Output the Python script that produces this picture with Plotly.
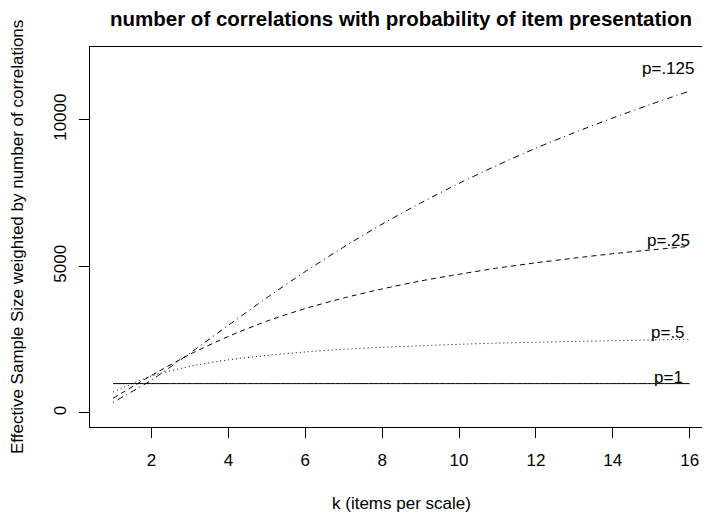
import plotly.graph_objects as go

# ---- data ----
k = [1, 2, 3, 4, 5, 6, 7, 8, 9, 10, 11, 12, 13, 14, 15, 16]
ess_p1 = [1000, 1000, 1000, 1000, 1000, 1000, 1000, 1000,
          1000, 1000, 1000, 1000, 1000, 1000, 1000, 1000]
ess_p05 = [710, 1260, 1590, 1810, 1960, 2080, 2170, 2240,
           2290, 2340, 2380, 2410, 2440, 2460, 2490, 2510]
ess_p025 = [500, 1280, 2000, 2610, 3130, 3560, 3920, 4230,
            4500, 4730, 4940, 5120, 5280, 5430, 5560, 5680]
ess_p0125 = [360, 1120, 2040, 2990, 3930, 4820, 5660, 6440,
             7160, 7830, 8450, 9030, 9560, 10060, 10530, 10980]
series_labels = ["p=1", "p=.5", "p=.25", "p=.125"]
x_ticks = [2, 4, 6, 8, 10, 12, 14, 16]
y_ticks = [0, 5000, 10000]

title_line1 = "Effective Sample Size weighted by"
title_line2 = "number of correlations with probability of item presentation"
x_title = "k (items per scale)"
y_title = "Effective Sample Size weighted by number of correlations"

FONT = "Liberation Sans, Arial, Helvetica, sans-serif"
FS = 17

series = [ess_p1, ess_p05, ess_p025, ess_p0125]
dashes = ["solid", "1px,3px", "5px,4px", "1px,4px,6px,4px"]
label_shift = [6, 7, 8, 29]   # px above the curve

fig = go.Figure()
for vals, dsh, lab, sh in zip(series, dashes, series_labels, label_shift):
    fig.add_trace(go.Scatter(
        x=k, y=vals, mode="lines", name=lab,
        line=dict(color="black", width=1, dash=dsh, shape="spline", smoothing=0.6),
        hoverinfo="skip", showlegend=False))
    # label sits above the curve near its right end
    fig.add_annotation(
        x=15.45, y=(vals[-2] + vals[-1]) / 2, text=lab, showarrow=False,
        xanchor="center", yanchor="middle", yshift=sh,
        font=dict(family=FONT, size=FS, color="black"))

# the page body has an 8px margin, so the figure is sized to end at the window edge
fig.update_layout(
    width=702, height=504,
    template="none",
    paper_bgcolor="white", plot_bgcolor="white",
    margin=dict(l=82, r=0, t=39, b=85, pad=0),
    font=dict(family=FONT, size=FS, color="black"),
    showlegend=False,
)
fig.update_xaxes(
    range=[0.4, 16.53], tickvals=x_ticks, ticktext=[str(v) for v in x_ticks],
    showgrid=False, zeroline=False, showline=True, linecolor="black", linewidth=1,
    mirror=True, ticks="outside", ticklen=10, tickwidth=1, tickcolor="black",
    tickfont=dict(family=FONT, size=FS, color="black"), automargin=False,
    ticklabelstandoff=8)
fig.update_yaxes(
    range=[-480, 12480], tickvals=y_ticks, ticktext=[str(v) for v in y_ticks],
    showgrid=False, zeroline=False, showline=True, linecolor="black", linewidth=1,
    mirror=False, ticks="outside", ticklen=10, tickwidth=1, tickcolor="black",
    tickangle=-90, tickfont=dict(family=FONT, size=FS, color="black"),
    automargin=False, ticklabelstandoff=6)

# axis titles and main title (R-style placement)
fig.add_annotation(xref="paper", yref="paper", x=0.5024, y=-0.2, text=x_title,
                   showarrow=False, xanchor="center", yanchor="middle",
                   font=dict(family=FONT, size=FS, color="black"))
fig.add_annotation(xref="paper", yref="paper", x=-0.1177, y=0.5, text=y_title,
                   textangle=-90, showarrow=False, xanchor="center", yanchor="middle",
                   font=dict(family=FONT, size=FS, color="black"))
fig.add_annotation(xref="paper", yref="paper", x=0.5024, y=1.0737, text="<b>%s</b>" % title_line2,
                   showarrow=False, xanchor="center", yanchor="middle",
                   font=dict(family=FONT, size=20.5, color="black"))
fig.add_annotation(xref="paper", yref="paper", x=0.5024, y=1.0737, yshift=24.5,
                   text="<b>%s</b>" % title_line1,
                   showarrow=False, xanchor="center", yanchor="middle",
                   font=dict(family=FONT, size=20.5, color="black"))

fig.write_html("out.html")
